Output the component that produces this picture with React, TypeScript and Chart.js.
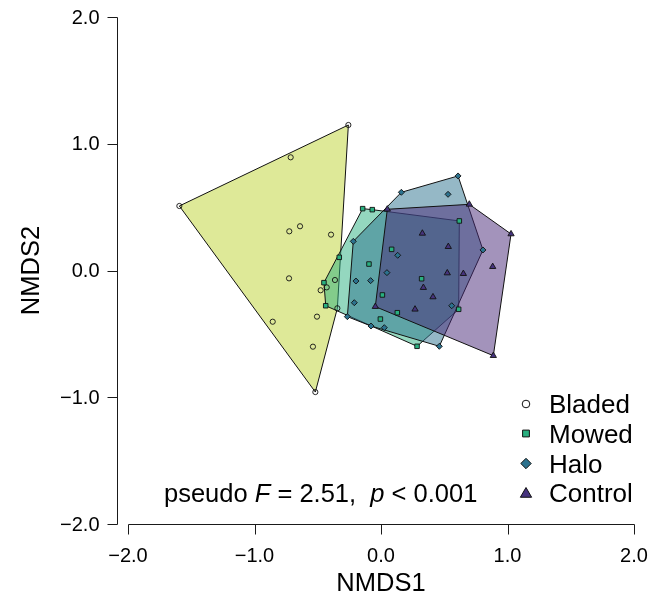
import React, { useEffect, useRef } from "react";
import { Chart, registerables } from "chart.js";
import { drawPoint } from "chart.js/helpers";

Chart.register(...registerables);

// ---------- data ----------
const groups = ["Bladed", "Mowed", "Halo", "Control"];

const bladedX = [-0.258, -0.714, -1.594, -0.640, -0.725, -0.395, -0.727, -0.364, -0.429, -0.477, -0.506, -0.856, -0.538, -0.519, -0.345];
const bladedY = [1.148, 0.893, 0.509, 0.349, 0.309, 0.283, -0.062, -0.075, -0.133, -0.156, -0.364, -0.404, -0.601, -0.959, -0.298];

const mowedX = [-0.145, -0.069, 0.619, -0.330, 0.084, -0.095, -0.451, 0.321, 0.011, -0.437, 0.614, 0.129, -0.005, 0.285];
const mowedY = [0.488, 0.480, 0.391, 0.104, 0.167, 0.051, -0.096, -0.065, -0.193, -0.278, -0.306, -0.333, -0.383, -0.598];

const haloX = [0.609, 0.161, 0.530, -0.219, 0.806, 0.132, 0.047, -0.198, -0.082, -0.211, 0.559, -0.266, -0.079, 0.026, 0.461];
const haloY = [0.746, 0.617, 0.601, 0.230, 0.162, 0.120, -0.017, -0.083, -0.080, -0.254, -0.278, -0.364, -0.438, -0.451, -0.598];

const controlX = [0.050, 0.698, 1.028, 0.327, 0.532, 0.883, 0.524, 0.651, 0.335, 0.411, -0.045, 0.269, 0.888];
const controlY = [0.483, 0.522, 0.288, 0.293, 0.188, 0.030, -0.020, -0.025, -0.135, -0.209, -0.285, -0.306, -0.672];

const xTicks = [-2, -1, 0, 1, 2];
const xTickLabels = ["\u22122.0", "\u22121.0", "0.0", "1.0", "2.0"];
const yTicks = [-2, -1, 0, 1, 2];
const yTickLabels = ["\u22122.0", "\u22121.0", "0.0", "1.0", "2.0"];

const xTitle = "NMDS1";
const yTitle = "NMDS2";
const statText = ["pseudo ", "F", " = 2.51,  ", "p", " < 0.001"];

// ---------- styles ----------
const FONT = "'Liberation Sans', Arial, Helvetica, sans-serif";
const pointFill = ["rgba(255,255,255,0)", "#29AF7F", "#2C728E", "#46337E"];
const hullFill = ["rgba(189,212,50,0.5)", "rgba(41,175,127,0.5)", "rgba(44,114,142,0.5)", "rgba(72,40,120,0.5)"];
const pointStyles = ["circle", "rect", "rectRot", "triangle"];
const pointRadii = [2.6, 3.2, 3.0, 3.6];
const legendRadii = [3.8, 4.8, 5.2, 6.5];

function toPoints(xs: number[], ys: number[]) {
  return xs.map((x, i) => ({ x, y: ys[i] }));
}

function convexHull(pts: { x: number; y: number }[]) {
  const p = [...pts].sort((a, b) => (a.x === b.x ? a.y - b.y : a.x - b.x));
  const cross = (o: any, a: any, b: any) => (a.x - o.x) * (b.y - o.y) - (a.y - o.y) * (b.x - o.x);
  const lower: any[] = [];
  for (const q of p) {
    while (lower.length >= 2 && cross(lower[lower.length - 2], lower[lower.length - 1], q) <= 0) lower.pop();
    lower.push(q);
  }
  const upper: any[] = [];
  for (let i = p.length - 1; i >= 0; i--) {
    const q = p[i];
    while (upper.length >= 2 && cross(upper[upper.length - 2], upper[upper.length - 1], q) <= 0) upper.pop();
    upper.push(q);
  }
  upper.pop();
  lower.pop();
  const h = lower.concat(upper);
  h.push(h[0]);
  return h;
}

const overlayPlugin = {
  id: "overlay",
  afterDraw(chart: any) {
    const { ctx } = chart;
    const xs = chart.scales.x;
    const ys = chart.scales.y;
    ctx.save();
    ctx.strokeStyle = "#1a1a1a";
    ctx.fillStyle = "#000";
    ctx.lineWidth = 1;

    // y axis (detached)
    const axX = Math.round(xs.getPixelForValue(-2)) - 11 + 0.5;
    const yTop = Math.round(ys.getPixelForValue(2)) + 0.5;
    const yBot = Math.round(ys.getPixelForValue(-2)) + 0.5;
    ctx.beginPath();
    ctx.moveTo(axX, yTop);
    ctx.lineTo(axX, yBot);
    yTicks.forEach((v) => {
      const py = Math.round(ys.getPixelForValue(v)) + 0.5;
      ctx.moveTo(axX, py);
      ctx.lineTo(axX - 10, py);
    });
    ctx.stroke();
    ctx.font = `20px ${FONT}`;
    ctx.textAlign = "right";
    ctx.textBaseline = "middle";
    yTicks.forEach((v, i) => {
      ctx.fillText(yTickLabels[i], axX - 18, ys.getPixelForValue(v) + 1);
    });

    // x axis
    const axY = Math.round(ys.getPixelForValue(-2)) + 0.5;
    const xL = Math.round(xs.getPixelForValue(-2)) + 0.5;
    const xR = Math.round(xs.getPixelForValue(2)) + 0.5;
    ctx.beginPath();
    ctx.moveTo(xL, axY);
    ctx.lineTo(xR, axY);
    xTicks.forEach((v) => {
      const px = Math.round(xs.getPixelForValue(v)) + 0.5;
      ctx.moveTo(px, axY);
      ctx.lineTo(px, axY + 10);
    });
    ctx.stroke();
    ctx.textAlign = "center";
    ctx.textBaseline = "alphabetic";
    xTicks.forEach((v, i) => {
      ctx.fillText(xTickLabels[i], xs.getPixelForValue(v), 562);
    });

    // titles
    ctx.font = `25.5px ${FONT}`;
    ctx.fillText(xTitle, xs.getPixelForValue(0), 591);
    ctx.save();
    ctx.translate(39, ys.getPixelForValue(0));
    ctx.rotate(-Math.PI / 2);
    ctx.textAlign = "center";
    ctx.fillText(yTitle, 0, 0);
    ctx.restore();

    // statistic text
    ctx.textAlign = "left";
    let tx = 164;
    const base = 502;
    statText.forEach((s, i) => {
      ctx.font = (i === 1 || i === 3 ? "italic " : "") + `25.5px ${FONT}`;
      ctx.fillText(s, tx, base);
      tx += ctx.measureText(s).width;
    });

    // legend
    const legY = [404, 433.5, 463.5, 493];
    groups.forEach((g, i) => {
      ctx.fillStyle = i === 0 ? "#ffffff" : pointFill[i];
      ctx.strokeStyle = "#111";
      ctx.lineWidth = 1;
      drawPoint(ctx, { pointStyle: pointStyles[i], radius: legendRadii[i], rotation: 0, borderWidth: 1 } as any, 526, legY[i] + (i === 3 ? 1 : 0));
      ctx.fillStyle = "#000";
      ctx.font = `26px ${FONT}`;
      ctx.fillText(g, 549, legY[i] + 9);
    });
    ctx.restore();
  },
};

export default function App() {
  const ref = useRef<HTMLCanvasElement | null>(null);
  useEffect(() => {
    document.body.style.margin = "0";
    const canvas = ref.current!;
    const sets = [
      toPoints(bladedX, bladedY),
      toPoints(mowedX, mowedY),
      toPoints(haloX, haloY),
      toPoints(controlX, controlY),
    ];
    const hullSets = sets.map((pts, i) => ({
      type: "line" as const,
      label: groups[i] + " hull",
      data: convexHull(pts),
      showLine: true,
      fill: "shape" as any,
      backgroundColor: hullFill[i],
      borderColor: "#111",
      borderWidth: 1,
      pointRadius: 0,
      tension: 0,
      order: 10 - i,
    }));
    const pointSets = sets.map((pts, i) => ({
      type: "scatter" as const,
      label: groups[i],
      data: pts,
      pointStyle: pointStyles[i],
      pointRadius: pointRadii[i],
      backgroundColor: pointFill[i],
      borderColor: "#111",
      borderWidth: 0.9,
      showLine: false,
      order: 4 - i,
    }));
    const chart = new Chart(canvas, {
      type: "scatter",
      data: { datasets: [...pointSets, ...hullSets] as any },
      options: {
        animation: false,
        responsive: false,
        events: [],
        clip: false as any,
        layout: { padding: { left: 128, top: 17, right: 26, bottom: 71 } },
        scales: {
          x: { type: "linear", min: -2, max: 2, display: false },
          y: { type: "linear", min: -2, max: 2, display: false },
        },
        plugins: { legend: { display: false }, tooltip: { enabled: false } },
      },
      plugins: [overlayPlugin],
    });
    return () => chart.destroy();
  }, []);
  return <canvas ref={ref} width={660} height={595} style={{ display: "block", width: 660, height: 595 }} />;
}
